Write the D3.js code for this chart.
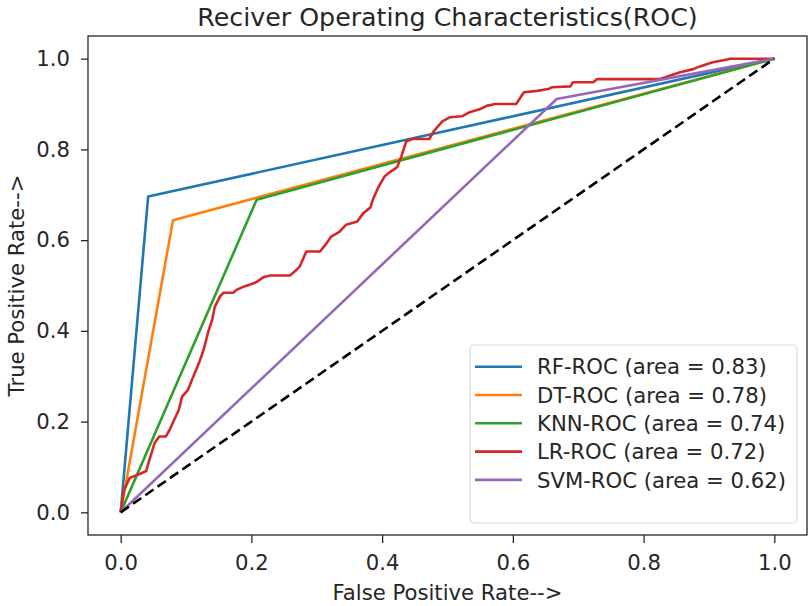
<!DOCTYPE html>
<html>
<head>
<meta charset="utf-8">
<script src="https://cdn.jsdelivr.net/npm/d3@7/dist/d3.min.js"></script>
<style>
  html, body { margin: 0; padding: 0; background: #fff; }
  svg { display: block; }
  text { font-family: "DejaVu Sans", sans-serif; fill: #262626; }
</style>
</head>
<body>
<svg id="chart" width="809" height="606"></svg>
<script>
// ROC curves for five classifiers
const models = ["RF", "DT", "KNN", "LR", "SVM"];
const aucs = [0.83, 0.78, 0.74, 0.72, 0.62];
const colors = ["#1f77b4", "#ff7f0e", "#2ca02c", "#d62728", "#9467bd"];

const rfFpr = [0, 0.042, 1];
const rfTpr = [0, 0.696, 1];
const dtFpr = [0, 0.080, 1];
const dtTpr = [0, 0.644, 1];
const knnFpr = [0, 0.208, 1];
const knnTpr = [0, 0.689, 1];
const svmFpr = [0, 0.667, 1];
const svmTpr = [0, 0.911, 1];

const lrFpr = [0, 0.005, 0.014, 0.030, 0.039, 0.043, 0.052, 0.059, 0.069, 0.075,
  0.080, 0.089, 0.094, 0.103, 0.109, 0.120, 0.127, 0.134, 0.140, 0.144,
  0.152, 0.157, 0.172, 0.178, 0.189, 0.198, 0.207, 0.218, 0.229, 0.259,
  0.270, 0.274, 0.284, 0.305, 0.316, 0.322, 0.335, 0.345, 0.362, 0.371,
  0.382, 0.386, 0.394, 0.404, 0.412, 0.423, 0.429, 0.437, 0.446, 0.472,
  0.479, 0.492, 0.504, 0.522, 0.534, 0.550, 0.560, 0.573, 0.605, 0.617,
  0.637, 0.654, 0.660, 0.688, 0.692, 0.723, 0.729, 0.825, 0.856, 0.876,
  0.886, 0.906, 0.928, 0.932, 1];
const lrTpr = [0, 0.049, 0.076, 0.085, 0.091, 0.111, 0.153, 0.167, 0.167, 0.182,
  0.198, 0.226, 0.255, 0.270, 0.292, 0.330, 0.359, 0.398, 0.425, 0.453,
  0.476, 0.484, 0.484, 0.491, 0.498, 0.502, 0.507, 0.518, 0.522, 0.522,
  0.536, 0.542, 0.575, 0.575, 0.595, 0.608, 0.619, 0.634, 0.641, 0.659,
  0.672, 0.690, 0.716, 0.741, 0.750, 0.761, 0.783, 0.818, 0.823, 0.823,
  0.840, 0.862, 0.871, 0.873, 0.882, 0.889, 0.896, 0.900, 0.900, 0.926,
  0.929, 0.933, 0.937, 0.939, 0.948, 0.948, 0.955, 0.955, 0.970, 0.977,
  0.983, 0.992, 0.998, 1, 1];

const xTicks = [0, 0.2, 0.4, 0.6, 0.8, 1.0];
const yTicks = [0, 0.2, 0.4, 0.6, 0.8, 1.0];

const titleText = "Reciver Operating Characteristics(ROC)";
const xLabel = "False Positive Rate-->";
const yLabel = "True Positive Rate-->";

const fprs = [rfFpr, dtFpr, knnFpr, lrFpr, svmFpr];
const tprs = [rfTpr, dtTpr, knnTpr, lrTpr, svmTpr];

const svg = d3.select("#chart");
const box = { left: 88, right: 807, top: 36, bottom: 535 };
const fontSize = "21.2px";

const x = d3.scaleLinear().domain([-0.05, 1.05]).range([box.left, box.right]);
const y = d3.scaleLinear().domain([-0.05, 1.05]).range([box.bottom, box.top]);

const fmt = d3.format(".1f");

// axes
const xAxis = svg.append("g")
  .attr("transform", `translate(0,${box.bottom})`)
  .call(d3.axisBottom(x).tickValues(xTicks).tickFormat(fmt).tickSize(8).tickPadding(12));
const yAxis = svg.append("g")
  .attr("transform", `translate(${box.left},0)`)
  .call(d3.axisLeft(y).tickValues(yTicks).tickFormat(fmt).tickSize(7).tickPadding(11));
[xAxis, yAxis].forEach(g => {
  g.select(".domain").remove();
  g.selectAll(".tick line").attr("stroke", "#262626").attr("stroke-width", 1.3);
  g.selectAll(".tick text").style("font-size", fontSize).style("font-family", "DejaVu Sans, sans-serif").attr("fill", "#262626");
});

// curves
svg.append("clipPath").attr("id", "plotclip")
  .append("rect").attr("x", box.left).attr("y", box.top)
  .attr("width", box.right - box.left).attr("height", box.bottom - box.top);

const plot = svg.append("g").attr("clip-path", "url(#plotclip)");
const line = d3.line().x(d => x(d[0])).y(d => y(d[1]));

models.forEach((m, i) => {
  const pts = fprs[i].map((f, k) => [f, tprs[i][k]]);
  plot.append("path")
    .datum(pts)
    .attr("d", line)
    .attr("fill", "none")
    .attr("stroke", colors[i])
    .attr("stroke-width", 2.6)
    .attr("stroke-linejoin", "round");
});

// chance diagonal
plot.append("path")
  .datum([[0, 0], [1, 1]])
  .attr("d", line)
  .attr("fill", "none")
  .attr("stroke", "#000")
  .attr("stroke-width", 2.6)
  .attr("stroke-dasharray", "10,5");

// spines
svg.append("rect")
  .attr("x", box.left).attr("y", box.top)
  .attr("width", box.right - box.left).attr("height", box.bottom - box.top)
  .attr("fill", "none").attr("stroke", "#262626").attr("stroke-width", 1.3);

// legend
const lg = svg.append("g");
lg.append("rect")
  .attr("x", 470).attr("y", 345).attr("width", 327).attr("height", 178)
  .attr("rx", 4).attr("ry", 4)
  .attr("fill", "#fff").attr("fill-opacity", 0.8)
  .attr("stroke", "#d9d9d9").attr("stroke-width", 1.2);
models.forEach((m, i) => {
  const cy = 366.7 + i * 28.3;
  lg.append("line")
    .attr("x1", 475).attr("x2", 522).attr("y1", cy).attr("y2", cy)
    .attr("stroke", colors[i]).attr("stroke-width", 2.6);
  lg.append("text")
    .attr("x", 537).attr("y", cy).attr("dy", "0.36em")
    .style("font-size", fontSize)
    .text(`${m}-ROC (area = ${aucs[i].toFixed(2)})`);
});

// title and axis labels
svg.append("text")
  .attr("x", (box.left + box.right) / 2).attr("y", 26)
  .attr("text-anchor", "middle")
  .style("font-size", "25.3px")
  .text(titleText);
svg.append("text")
  .attr("x", (box.left + box.right) / 2).attr("y", 600)
  .attr("text-anchor", "middle")
  .style("font-size", fontSize)
  .text(xLabel);
svg.append("text")
  .attr("transform", `translate(24,${(box.top + box.bottom) / 2}) rotate(-90)`)
  .attr("text-anchor", "middle")
  .style("font-size", fontSize)
  .text(yLabel);
</script>
</body>
</html>
